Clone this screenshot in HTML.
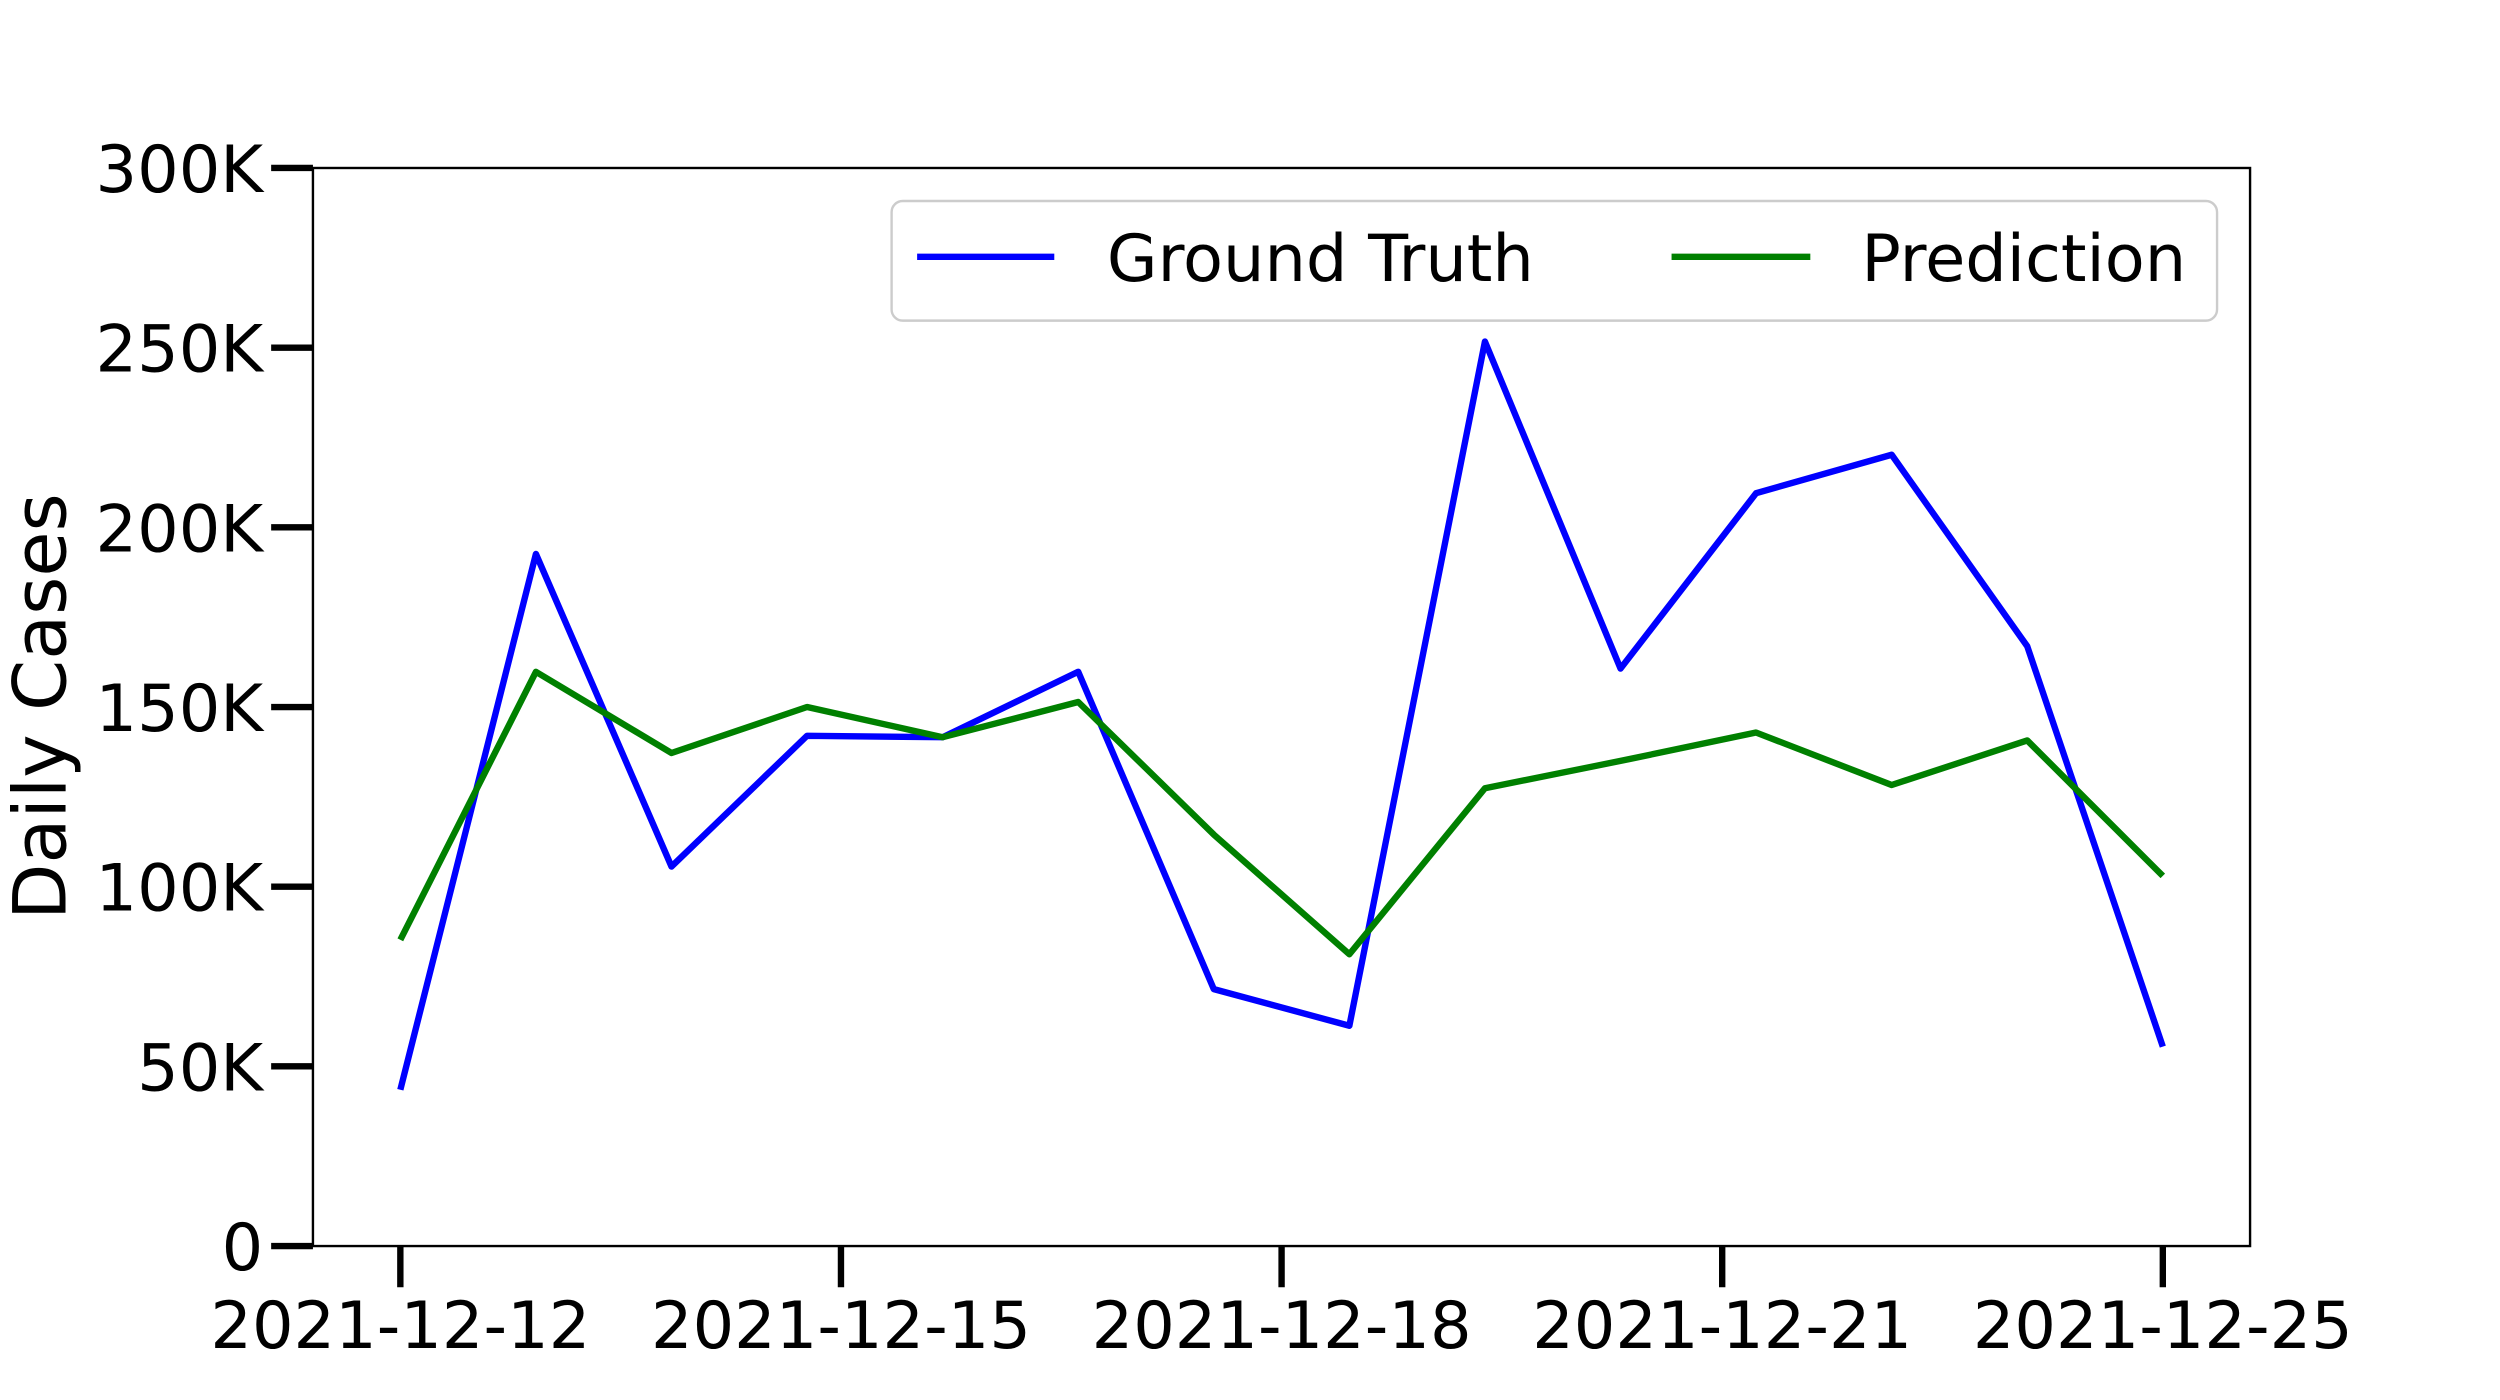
<!DOCTYPE html>
<html><head><meta charset="utf-8"><style>
html,body{margin:0;padding:0;background:#fff;}
svg{display:block;font-family:"DejaVu Sans","Liberation Sans",sans-serif;}
</style></head><body>
<svg id="chart" width="2500" height="1400" viewBox="0 0 1567.4 877.7" xmlns="http://www.w3.org/2000/svg">
<rect width="1567.4" height="877.7" fill="#fff"/>
<g id="marks"></g>
<rect x="196.2" y="105.3" width="1214.5" height="675.9" fill="none" stroke="#000" stroke-width="1.5"/>
<g id="axes"></g>
<text transform="translate(41,443) rotate(-90)" text-anchor="middle" font-size="46">Daily Cases</text>
<g>
<rect x="559" y="126" width="831" height="75" rx="7" fill="#fff" fill-opacity="0.8" stroke="#ccc" stroke-width="1.5"/>
<line x1="575" y1="161" x2="661" y2="161" stroke="#0000ff" stroke-width="4"/>
<text x="694" y="176" font-size="41">Ground Truth</text>
<line x1="1048" y1="161" x2="1135" y2="161" stroke="#008000" stroke-width="4"/>
<text x="1167" y="176" font-size="41">Prediction</text>
</g>
</svg>
<script>
const dates = ["2021-12-12","2021-12-13","2021-12-14","2021-12-15","2021-12-16","2021-12-17","2021-12-18","2021-12-19","2021-12-20","2021-12-21","2021-12-22","2021-12-23","2021-12-24","2021-12-25"];
const groundTruth = [43.5,192.6,105.6,142,141.6,159.8,71.5,61.3,251.7,160.7,209.5,220.2,166.9,55.5];
const prediction = [85.2,159.8,137.2,150,141.6,151.4,114.5,81.2,127.4,135,142.9,128.3,140.7,103];
const yTicks = [0,50,100,150,200,250,300];
const yTickLabels = ["0","50K","100K","150K","200K","250K","300K"];
const xTickFrac = [0,0.25,0.5,0.75,1];
const xTickLabels = ["2021-12-12","2021-12-15","2021-12-18","2021-12-21","2021-12-25"];

const NS = "http://www.w3.org/2000/svg";
const X0 = 251, X1 = 1356, Y0 = 781.2, Y1 = 105.3;
function xs(i){ return X0 + (X1 - X0) * i / (dates.length - 1); }
function xf(f){ return X0 + (X1 - X0) * f; }
function ys(v){ return Y0 - (Y0 - Y1) * v / 300; }
const marks = document.getElementById('marks');
const axes = document.getElementById('axes');
function mk(tag, attrs, parent){ const e = document.createElementNS(NS, tag); for (const k in attrs) e.setAttribute(k, attrs[k]); parent.appendChild(e); return e; }

function series(vals, color, name){
  const d = vals.map((v,i)=>(i?'L':'M')+xs(i).toFixed(2)+','+ys(v).toFixed(2)).join(' ');
  const p = mk('path', {d:d, fill:'none', stroke:color, 'stroke-width':4, 'stroke-linejoin':'round'}, marks);
  
  
}
series(groundTruth, '#0000ff', 'ground-truth-line');
series(prediction, '#008000', 'prediction-line');

yTicks.forEach((t,i)=>{
  const y = ys(t);
  const l = mk('line', {x1:170, y1:y, x2:196.2, y2:y, stroke:'#000', 'stroke-width':4}, axes);
  
  
  const tx = mk('text', {x:165, y:y+15, 'text-anchor':'end', 'font-size':41}, axes);
  
  
  tx.textContent = yTickLabels[i];
});
xTickFrac.forEach((f,i)=>{
  const x = xf(f);
  const l = mk('line', {x1:x, y1:781.2, x2:x, y2:807, stroke:'#000', 'stroke-width':4}, axes);
  
  
  const tx = mk('text', {x:x, y:845, 'text-anchor':'middle', 'font-size':41}, axes);
  
  
  tx.textContent = xTickLabels[i];
});
</script>
</body></html>
